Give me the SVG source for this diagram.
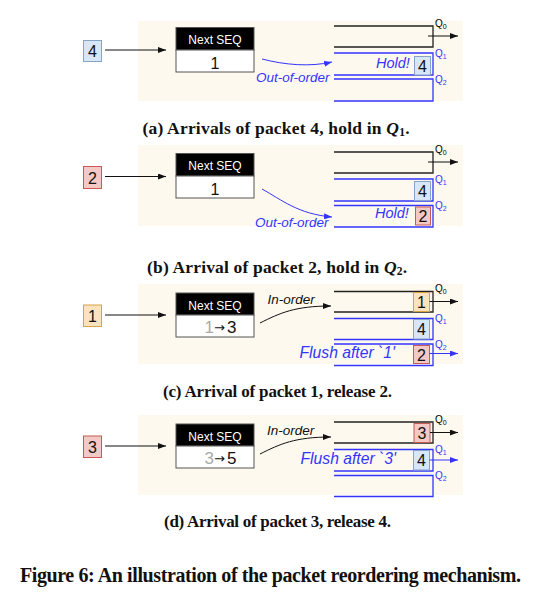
<svg xmlns="http://www.w3.org/2000/svg" width="541" height="594" viewBox="0 0 541 594">
<defs>
<marker id="ahk" markerWidth="8" markerHeight="6" refX="8" refY="3" orient="auto" markerUnits="userSpaceOnUse"><path d="M0,0 L8,3 L0,6 z" fill="#111"/></marker>
<marker id="ahb" markerWidth="8" markerHeight="6" refX="8" refY="3" orient="auto" markerUnits="userSpaceOnUse"><path d="M0,0 L8,3 L0,6 z" fill="#3434ff"/></marker>
</defs>
<style>
.bg{fill:#fdf9ee}
.pk{stroke-width:1}
.pb{fill:#d7e6f8;stroke:#86a3c8}
.pr{fill:#f4c9c5;stroke:#c65a55}
.po{fill:#fce3c0;stroke:#d8a343}
.pt{font-family:"Liberation Sans",Arial,sans-serif;font-size:16px;fill:#111;text-anchor:middle}
.seqh{fill:#000;stroke:#555}
.seqv{fill:#fff;stroke:#555}
.seqt{font-family:"Liberation Sans",Arial,sans-serif;font-size:12px;fill:#fff;text-anchor:middle}
.qk{fill:none;stroke:#222;stroke-width:1.3}
.qb{fill:none;stroke:#3434ff;stroke-width:1.3}
.ql{font-family:"Liberation Sans",Arial,sans-serif;font-size:10px}
.lk{fill:none;stroke:#111;stroke-width:1}
.lb{fill:none;stroke:#3434ff;stroke-width:1}
.it{font-family:"Liberation Sans",Arial,sans-serif;font-style:italic}
.cap{font-family:"Liberation Serif","Times New Roman",serif;font-weight:bold;font-size:17.5px;fill:#111;text-anchor:middle}
.cap2{font-size:17px}
.figcap{font-size:20px}
</style>

<!-- Panel a -->
<g id="panel-a">
<rect class="bg" x="138" y="21" width="325" height="80"/>
<g id="a-in"><rect class="pk pb" x="83.5" y="40.5" width="18" height="21"/><text class="pt" x="92.5" y="57">4</text></g>
<g id="a-seq"><rect class="seqh" x="176" y="27.5" width="78" height="22.5"/><rect class="seqv" x="176" y="50" width="78" height="22"/><text class="seqt" x="215" y="44">Next SEQ</text><text class="pt" x="215" y="68.5">1</text></g>
<g id="a-q0"><path class="qk" d="M334,26 H433 V47 H334"/><text class="ql" x="435" y="27">Q<tspan font-size="7" dy="2">0</tspan></text></g>
<g id="a-q1"><path class="qb" d="M334,53 H433 V75 H334"/><text class="ql" x="435" y="57" fill="#3434ff">Q<tspan font-size="7" dy="2">1</tspan></text></g>
<g id="a-q2"><path class="qb" d="M334,79 H433 V101 H334"/><text class="ql" x="435" y="83" fill="#3434ff">Q<tspan font-size="7" dy="2">2</tspan></text></g>
<g id="a-p4"><rect class="pk pb" x="414.5" y="56.5" width="16" height="18.5"/><text class="pt" x="422.5" y="71.5">4</text></g>
<text class="it" x="376" y="68" font-size="14.5" fill="#3434ff">Hold!</text>
<text class="it" x="256" y="81.5" font-size="13.5" fill="#3434ff">Out-of-order</text>
<g id="a-conn">
<path class="lk" d="M105,50 H166" marker-end="url(#ahk)"/>
<path class="lb" d="M262,59 C285,65 310,67 332,62" marker-end="url(#ahb)"/>
<path class="lk" d="M428,36 H458" marker-end="url(#ahk)"/>
</g>
</g>
<text class="cap" x="276" y="134" textLength="267" lengthAdjust="spacing">(a) Arrivals of packet 4, hold in <tspan font-style="italic">Q</tspan><tspan font-size="11.5" dy="2">1</tspan><tspan dy="-2">.</tspan></text>

<!-- Panel b -->
<g id="panel-b" transform="translate(0,126)">
<rect class="bg" x="138" y="19" width="325" height="81"/>
<g id="b-in"><rect class="pk pr" x="83.5" y="40.5" width="18" height="22"/><text class="pt" x="92.5" y="57.5">2</text></g>
<g id="b-seq"><rect class="seqh" x="176" y="27.5" width="78" height="22.5"/><rect class="seqv" x="176" y="50" width="78" height="22"/><text class="seqt" x="215" y="44">Next SEQ</text><text class="pt" x="215" y="68.5">1</text></g>
<g id="b-q0"><path class="qk" d="M334,26 H433 V47 H334"/><text class="ql" x="435" y="27">Q<tspan font-size="7" dy="2">0</tspan></text></g>
<g id="b-q1"><path class="qb" d="M334,53 H433 V75 H334"/><text class="ql" x="435" y="57" fill="#3434ff">Q<tspan font-size="7" dy="2">1</tspan></text></g>
<g id="b-q2"><path class="qb" d="M334,79.5 H433 V101 H334"/><text class="ql" x="435" y="83" fill="#3434ff">Q<tspan font-size="7" dy="2">2</tspan></text></g>
<g id="b-p4"><rect class="pk pb" x="414.5" y="55.5" width="16" height="19"/><text class="pt" x="422.5" y="71">4</text></g>
<g id="b-p2"><rect class="pk pr" x="415.5" y="81" width="15" height="18"/><text class="pt" x="423" y="96">2</text></g>
<text class="it" x="375" y="91.5" font-size="14.5" fill="#3434ff">Hold!</text>
<text class="it" x="255" y="101.3" font-size="13.5" fill="#3434ff">Out-of-order</text>
<g id="b-conn">
<path class="lk" d="M105,50.5 H166" marker-end="url(#ahk)"/>
<path class="lb" d="M262,63 C282,74 298,88 332,91" marker-end="url(#ahb)"/>
<path class="lk" d="M428,36 H458" marker-end="url(#ahk)"/>
</g>
</g>
<text class="cap" x="277" y="273" textLength="260" lengthAdjust="spacing">(b) Arrival of packet 2, hold in <tspan font-style="italic">Q</tspan><tspan font-size="11.5" dy="2">2</tspan><tspan dy="-2">.</tspan></text>

<!-- Panel c -->
<g id="panel-c" transform="translate(0,265)">
<rect class="bg" x="138" y="19" width="325" height="80"/>
<g id="c-in"><rect class="pk po" x="83.5" y="40" width="18" height="21.5"/><text class="pt" x="92.5" y="57">1</text></g>
<g id="c-seq"><rect class="seqh" x="176" y="28" width="78" height="22"/><rect class="seqv" x="176" y="50" width="78" height="22"/><text class="seqt" x="215" y="44.5">Next SEQ</text><text x="204.5" y="68" font-family="Liberation Sans, Arial, sans-serif" font-size="17" fill="#111"><tspan fill="#aaa">1</tspan><tspan x="214" font-family="DejaVu Sans, sans-serif" font-size="13" dy="-1">→</tspan><tspan x="227" dy="1">3</tspan></text></g>
<g id="c-q0"><path class="qk" d="M334,26.5 H433 V47 H334"/><text class="ql" x="435" y="27">Q<tspan font-size="7" dy="2">0</tspan></text></g>
<g id="c-q1"><path class="qb" d="M334,53.5 H433 V74.5 H334"/><text class="ql" x="435" y="57" fill="#3434ff">Q<tspan font-size="7" dy="2">1</tspan></text></g>
<g id="c-q2"><path class="qb" d="M334,79 H433 V100.5 H334"/><text class="ql" x="435" y="83" fill="#3434ff">Q<tspan font-size="7" dy="2">2</tspan></text></g>
<g id="c-p1"><rect class="pk po" x="413.5" y="27.5" width="16" height="19"/><text class="pt" x="421.5" y="43">1</text></g>
<g id="c-p4"><rect class="pk pb" x="413.5" y="54.5" width="16" height="19.5"/><text class="pt" x="421.5" y="70">4</text></g>
<g id="c-p2"><rect class="pk pr" x="413.5" y="80.5" width="16" height="18"/><text class="pt" x="421.5" y="95.5">2</text></g>
<text class="it" x="267.5" y="39" font-size="13.5" fill="#111">In-order</text>
<text class="it" x="299.5" y="93" font-size="15.7" fill="#3434ff">Flush after `1'</text>
<g id="c-conn">
<path class="lk" d="M105,50 H166" marker-end="url(#ahk)"/>
<path class="lk" d="M260,58 C280,48 295,41 331,41" marker-end="url(#ahk)"/>
<path class="lk" d="M429.5,36.5 H458" marker-end="url(#ahk)"/>
<path class="lb" d="M429.5,88.5 H458" marker-end="url(#ahb)"/>
</g>
</g>
<text class="cap cap2" x="277.5" y="397" textLength="229" lengthAdjust="spacing">(c) Arrival of packet 1, release 2.</text>

<!-- Panel d -->
<g id="panel-d" transform="translate(0,396)">
<rect class="bg" x="138" y="19" width="325" height="80"/>
<g id="d-in"><rect class="pk pr" x="83.5" y="40" width="18" height="21.5"/><text class="pt" x="92.5" y="57">3</text></g>
<g id="d-seq"><rect class="seqh" x="176" y="28" width="78" height="22"/><rect class="seqv" x="176" y="50" width="78" height="22"/><text class="seqt" x="215" y="44.5">Next SEQ</text><text x="204.5" y="68" font-family="Liberation Sans, Arial, sans-serif" font-size="17" fill="#111"><tspan fill="#aaa">3</tspan><tspan x="214" font-family="DejaVu Sans, sans-serif" font-size="13" dy="-1">→</tspan><tspan x="227" dy="1">5</tspan></text></g>
<g id="d-q0"><path class="qk" d="M334,26 H433 V47 H334"/><text class="ql" x="435" y="27">Q<tspan font-size="7" dy="2">0</tspan></text></g>
<g id="d-q1"><path class="qb" d="M334,53.5 H433 V75 H334"/><text class="ql" x="435" y="57" fill="#3434ff">Q<tspan font-size="7" dy="2">1</tspan></text></g>
<g id="d-q2"><path class="qb" d="M334,79.5 H433 V100.5 H334"/><text class="ql" x="435" y="83" fill="#3434ff">Q<tspan font-size="7" dy="2">2</tspan></text></g>
<g id="d-p3"><rect class="pk pr" x="414" y="27.5" width="16" height="19"/><text class="pt" x="422" y="43">3</text></g>
<g id="d-p4"><rect class="pk pb" x="413.5" y="54.5" width="16" height="19.5"/><text class="pt" x="421.5" y="70">4</text></g>
<text class="it" x="267" y="38.5" font-size="13.5" fill="#111">In-order</text>
<text class="it" x="300.5" y="67.5" font-size="15.7" fill="#3434ff">Flush after `3'</text>
<g id="d-conn">
<path class="lk" d="M105,50 H166" marker-end="url(#ahk)"/>
<path class="lk" d="M260,58 C280,48 295,41 331,41" marker-end="url(#ahk)"/>
<path class="lk" d="M430,36.5 H458" marker-end="url(#ahk)"/>
<path class="lb" d="M429.5,64 H458" marker-end="url(#ahb)"/>
</g>
</g>
<text class="cap cap2" x="277.5" y="527" textLength="227" lengthAdjust="spacing">(d) Arrival of packet 3, release 4.</text>

<text class="cap figcap" x="270.5" y="582" textLength="501" lengthAdjust="spacing">Figure 6: An illustration of the packet reordering mechanism.</text>
</svg>
